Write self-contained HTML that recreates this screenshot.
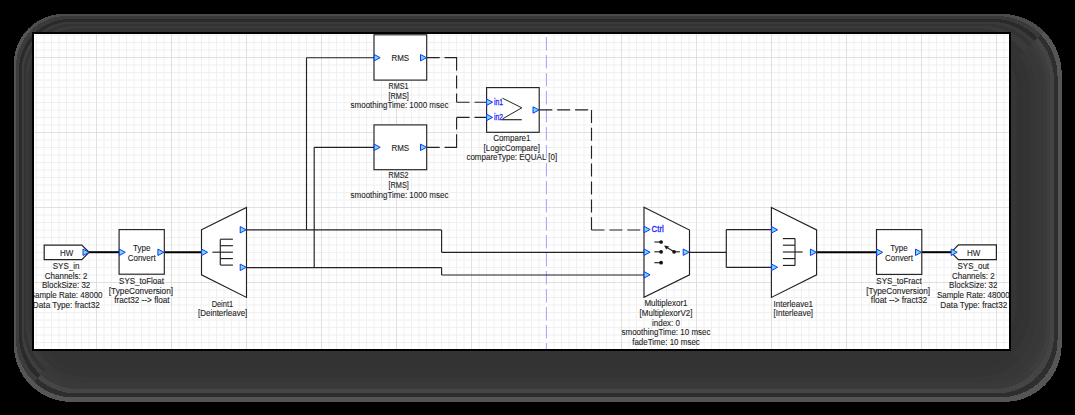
<!DOCTYPE html>
<html><head><meta charset="utf-8"><style>html,body{margin:0;padding:0;background:#000;width:1075px;height:415px;overflow:hidden}</style></head>
<body><svg width="1075" height="415" viewBox="0 0 1075 415" style="display:block;font-family:'Liberation Sans',sans-serif"><rect x="0" y="0" width="1075" height="415" fill="#000"/>
<defs><clipPath id="stop"><polygon points="-236.15,-236.15 1301.70,-226.15 1001.70,73.85 63.85,63.85"/></clipPath><clipPath id="sright"><polygon points="1301.70,-226.15 1304.70,644.80 1004.70,344.80 1001.70,73.85"/></clipPath><clipPath id="sbottom"><polygon points="1304.70,644.80 -229.15,644.80 70.85,344.80 1004.70,344.80"/></clipPath><clipPath id="sleft"><polygon points="-229.15,644.80 -236.15,-236.15 63.85,63.85 70.85,344.80"/></clipPath></defs>
<path d="M63.85,13.85 L1001.70,13.85 A60,60 0 0 1 1061.70,73.85 L1061.70,344.80 A57,57 0 0 1 1004.70,401.80 L70.85,401.80 A57,57 0 0 1 13.85,344.80 L13.85,63.85 A50,50 0 0 1 63.85,13.85 Z" fill="#555555" shape-rendering="crispEdges"/>
<path d="M66.10,16.10 L997.50,16.10 A60,60 0 0 1 1057.50,76.10 L1057.50,340.40 A57,57 0 0 1 1000.50,397.40 L73.10,397.40 A57,57 0 0 1 16.10,340.40 L16.10,66.10 A50,50 0 0 1 66.10,16.10 Z" fill="#2e2e2e" shape-rendering="crispEdges"/>
<path d="M69.10,19.10 L993.80,19.10 A60,60 0 0 1 1053.80,79.10 L1053.80,336.40 A57,57 0 0 1 996.80,393.40 L76.10,393.40 A57,57 0 0 1 19.10,336.40 L19.10,69.10 A50,50 0 0 1 69.10,19.10 Z" fill="#444444" shape-rendering="crispEdges"/>
<path d="M71.60,21.60 L990.20,21.60 A60,60 0 0 1 1050.20,81.60 L1050.20,332.20 A57,57 0 0 1 993.20,389.20 L78.60,389.20 A57,57 0 0 1 21.60,332.20 L21.60,71.60 A50,50 0 0 1 71.60,21.60 Z" fill="#3e3e3e" shape-rendering="crispEdges"/>
<path d="M73.50,23.50 L986.50,23.50 A60,60 0 0 1 1046.50,83.50 L1046.50,328.50 A57,57 0 0 1 989.50,385.50 L80.50,385.50 A57,57 0 0 1 23.50,328.50 L23.50,73.50 A50,50 0 0 1 73.50,23.50 Z" fill="#3a3a3a" shape-rendering="crispEdges"/>
<path d="M75.80,25.80 L983.40,25.80 A60,60 0 0 1 1043.40,85.80 L1043.40,325.00 A57,57 0 0 1 986.40,382.00 L82.80,382.00 A57,57 0 0 1 25.80,325.00 L25.80,75.80 A50,50 0 0 1 75.80,25.80 Z" fill="#383838" shape-rendering="crispEdges"/>
<path d="M78.10,28.10 L976.00,28.10 A60,60 0 0 1 1036.00,88.10 L1036.00,319.70 A57,57 0 0 1 979.00,376.70 L85.10,376.70 A57,57 0 0 1 28.10,319.70 L28.10,78.10 A50,50 0 0 1 78.10,28.10 Z" fill="#363636" shape-rendering="crispEdges"/>
<path d="M80.00,30.00 L970.00,30.00 A60,60 0 0 1 1030.00,90.00 L1030.00,313.00 A57,57 0 0 1 973.00,370.00 L87.00,370.00 A57,57 0 0 1 30.00,313.00 L30.00,80.00 A50,50 0 0 1 80.00,30.00 Z" fill="#333333" shape-rendering="crispEdges"/>
<path d="M81.00,31.00 L962.60,31.00 A60,60 0 0 1 1022.60,91.00 L1022.60,307.00 A57,57 0 0 1 965.60,364.00 L88.00,364.00 A57,57 0 0 1 31.00,307.00 L31.00,81.00 A50,50 0 0 1 81.00,31.00 Z" fill="#323232" shape-rendering="crispEdges"/>
<path d="M81.50,31.50 L957.00,31.50 A60,60 0 0 1 1017.00,91.50 L1017.00,301.00 A57,57 0 0 1 960.00,358.00 L88.50,358.00 A57,57 0 0 1 31.50,301.00 L31.50,81.50 A50,50 0 0 1 81.50,31.50 Z" fill="#353535" shape-rendering="crispEdges"/>
<g clip-path="url(#stop)">
<path d="M63.85,13.85 L1001.70,13.85 A60,60 0 0 1 1061.70,73.85 L1061.70,344.80 A57,57 0 0 1 1004.70,401.80 L70.85,401.80 A57,57 0 0 1 13.85,344.80 L13.85,63.85 A50,50 0 0 1 63.85,13.85 Z" fill="#4c4c4c" shape-rendering="crispEdges"/>
<path d="M66.10,16.10 L997.50,16.10 A60,60 0 0 1 1057.50,76.10 L1057.50,340.40 A57,57 0 0 1 1000.50,397.40 L73.10,397.40 A57,57 0 0 1 16.10,340.40 L16.10,66.10 A50,50 0 0 1 66.10,16.10 Z" fill="#3a3a3a" shape-rendering="crispEdges"/>
<path d="M69.10,19.10 L993.80,19.10 A60,60 0 0 1 1053.80,79.10 L1053.80,336.40 A57,57 0 0 1 996.80,393.40 L76.10,393.40 A57,57 0 0 1 19.10,336.40 L19.10,69.10 A50,50 0 0 1 69.10,19.10 Z" fill="#2a2a2a" shape-rendering="crispEdges"/>
<path d="M71.60,21.60 L990.20,21.60 A60,60 0 0 1 1050.20,81.60 L1050.20,332.20 A57,57 0 0 1 993.20,389.20 L78.60,389.20 A57,57 0 0 1 21.60,332.20 L21.60,71.60 A50,50 0 0 1 71.60,21.60 Z" fill="#3a3a3a" shape-rendering="crispEdges"/>
<path d="M73.50,23.50 L986.50,23.50 A60,60 0 0 1 1046.50,83.50 L1046.50,328.50 A57,57 0 0 1 989.50,385.50 L80.50,385.50 A57,57 0 0 1 23.50,328.50 L23.50,73.50 A50,50 0 0 1 73.50,23.50 Z" fill="#333333" shape-rendering="crispEdges"/>
<path d="M75.80,25.80 L983.40,25.80 A60,60 0 0 1 1043.40,85.80 L1043.40,325.00 A57,57 0 0 1 986.40,382.00 L82.80,382.00 A57,57 0 0 1 25.80,325.00 L25.80,75.80 A50,50 0 0 1 75.80,25.80 Z" fill="#3a3a3a" shape-rendering="crispEdges"/>
<path d="M78.10,28.10 L976.00,28.10 A60,60 0 0 1 1036.00,88.10 L1036.00,319.70 A57,57 0 0 1 979.00,376.70 L85.10,376.70 A57,57 0 0 1 28.10,319.70 L28.10,78.10 A50,50 0 0 1 78.10,28.10 Z" fill="#333333" shape-rendering="crispEdges"/>
<path d="M80.00,30.00 L970.00,30.00 A60,60 0 0 1 1030.00,90.00 L1030.00,313.00 A57,57 0 0 1 973.00,370.00 L87.00,370.00 A57,57 0 0 1 30.00,313.00 L30.00,80.00 A50,50 0 0 1 80.00,30.00 Z" fill="#333333" shape-rendering="crispEdges"/>
<path d="M81.00,31.00 L962.60,31.00 A60,60 0 0 1 1022.60,91.00 L1022.60,307.00 A57,57 0 0 1 965.60,364.00 L88.00,364.00 A57,57 0 0 1 31.00,307.00 L31.00,81.00 A50,50 0 0 1 81.00,31.00 Z" fill="#333333" shape-rendering="crispEdges"/>
<path d="M81.50,31.50 L957.00,31.50 A60,60 0 0 1 1017.00,91.50 L1017.00,301.00 A57,57 0 0 1 960.00,358.00 L88.50,358.00 A57,57 0 0 1 31.50,301.00 L31.50,81.50 A50,50 0 0 1 81.50,31.50 Z" fill="#333333" shape-rendering="crispEdges"/>
</g>
<g clip-path="url(#sleft)">
<path d="M63.85,13.85 L1001.70,13.85 A60,60 0 0 1 1061.70,73.85 L1061.70,344.80 A57,57 0 0 1 1004.70,401.80 L70.85,401.80 A57,57 0 0 1 13.85,344.80 L13.85,63.85 A50,50 0 0 1 63.85,13.85 Z" fill="#555555" shape-rendering="crispEdges"/>
<path d="M66.10,16.10 L997.50,16.10 A60,60 0 0 1 1057.50,76.10 L1057.50,340.40 A57,57 0 0 1 1000.50,397.40 L73.10,397.40 A57,57 0 0 1 16.10,340.40 L16.10,66.10 A50,50 0 0 1 66.10,16.10 Z" fill="#3c3c3c" shape-rendering="crispEdges"/>
<path d="M69.10,19.10 L993.80,19.10 A60,60 0 0 1 1053.80,79.10 L1053.80,336.40 A57,57 0 0 1 996.80,393.40 L76.10,393.40 A57,57 0 0 1 19.10,336.40 L19.10,69.10 A50,50 0 0 1 69.10,19.10 Z" fill="#2a2a2a" shape-rendering="crispEdges"/>
<path d="M71.60,21.60 L990.20,21.60 A60,60 0 0 1 1050.20,81.60 L1050.20,332.20 A57,57 0 0 1 993.20,389.20 L78.60,389.20 A57,57 0 0 1 21.60,332.20 L21.60,71.60 A50,50 0 0 1 71.60,21.60 Z" fill="#3e3e3e" shape-rendering="crispEdges"/>
<path d="M73.50,23.50 L986.50,23.50 A60,60 0 0 1 1046.50,83.50 L1046.50,328.50 A57,57 0 0 1 989.50,385.50 L80.50,385.50 A57,57 0 0 1 23.50,328.50 L23.50,73.50 A50,50 0 0 1 73.50,23.50 Z" fill="#333333" shape-rendering="crispEdges"/>
<path d="M75.80,25.80 L983.40,25.80 A60,60 0 0 1 1043.40,85.80 L1043.40,325.00 A57,57 0 0 1 986.40,382.00 L82.80,382.00 A57,57 0 0 1 25.80,325.00 L25.80,75.80 A50,50 0 0 1 75.80,25.80 Z" fill="#3a3a3a" shape-rendering="crispEdges"/>
<path d="M78.10,28.10 L976.00,28.10 A60,60 0 0 1 1036.00,88.10 L1036.00,319.70 A57,57 0 0 1 979.00,376.70 L85.10,376.70 A57,57 0 0 1 28.10,319.70 L28.10,78.10 A50,50 0 0 1 78.10,28.10 Z" fill="#353535" shape-rendering="crispEdges"/>
<path d="M80.00,30.00 L970.00,30.00 A60,60 0 0 1 1030.00,90.00 L1030.00,313.00 A57,57 0 0 1 973.00,370.00 L87.00,370.00 A57,57 0 0 1 30.00,313.00 L30.00,80.00 A50,50 0 0 1 80.00,30.00 Z" fill="#333333" shape-rendering="crispEdges"/>
<path d="M81.00,31.00 L962.60,31.00 A60,60 0 0 1 1022.60,91.00 L1022.60,307.00 A57,57 0 0 1 965.60,364.00 L88.00,364.00 A57,57 0 0 1 31.00,307.00 L31.00,81.00 A50,50 0 0 1 81.00,31.00 Z" fill="#333333" shape-rendering="crispEdges"/>
<path d="M81.50,31.50 L957.00,31.50 A60,60 0 0 1 1017.00,91.50 L1017.00,301.00 A57,57 0 0 1 960.00,358.00 L88.50,358.00 A57,57 0 0 1 31.50,301.00 L31.50,81.50 A50,50 0 0 1 81.50,31.50 Z" fill="#333333" shape-rendering="crispEdges"/>
</g>
<g clip-path="url(#sright)">
<path d="M63.85,13.85 L1001.70,13.85 A60,60 0 0 1 1061.70,73.85 L1061.70,344.80 A57,57 0 0 1 1004.70,401.80 L70.85,401.80 A57,57 0 0 1 13.85,344.80 L13.85,63.85 A50,50 0 0 1 63.85,13.85 Z" fill="#555555" shape-rendering="crispEdges"/>
<path d="M66.10,16.10 L997.50,16.10 A60,60 0 0 1 1057.50,76.10 L1057.50,340.40 A57,57 0 0 1 1000.50,397.40 L73.10,397.40 A57,57 0 0 1 16.10,340.40 L16.10,66.10 A50,50 0 0 1 66.10,16.10 Z" fill="#2e2e2e" shape-rendering="crispEdges"/>
<path d="M69.10,19.10 L993.80,19.10 A60,60 0 0 1 1053.80,79.10 L1053.80,336.40 A57,57 0 0 1 996.80,393.40 L76.10,393.40 A57,57 0 0 1 19.10,336.40 L19.10,69.10 A50,50 0 0 1 69.10,19.10 Z" fill="#444444" shape-rendering="crispEdges"/>
<path d="M71.60,21.60 L990.20,21.60 A60,60 0 0 1 1050.20,81.60 L1050.20,332.20 A57,57 0 0 1 993.20,389.20 L78.60,389.20 A57,57 0 0 1 21.60,332.20 L21.60,71.60 A50,50 0 0 1 71.60,21.60 Z" fill="#3e3e3e" shape-rendering="crispEdges"/>
<path d="M73.50,23.50 L986.50,23.50 A60,60 0 0 1 1046.50,83.50 L1046.50,328.50 A57,57 0 0 1 989.50,385.50 L80.50,385.50 A57,57 0 0 1 23.50,328.50 L23.50,73.50 A50,50 0 0 1 73.50,23.50 Z" fill="#3a3a3a" shape-rendering="crispEdges"/>
<path d="M75.80,25.80 L983.40,25.80 A60,60 0 0 1 1043.40,85.80 L1043.40,325.00 A57,57 0 0 1 986.40,382.00 L82.80,382.00 A57,57 0 0 1 25.80,325.00 L25.80,75.80 A50,50 0 0 1 75.80,25.80 Z" fill="#383838" shape-rendering="crispEdges"/>
<path d="M78.10,28.10 L976.00,28.10 A60,60 0 0 1 1036.00,88.10 L1036.00,319.70 A57,57 0 0 1 979.00,376.70 L85.10,376.70 A57,57 0 0 1 28.10,319.70 L28.10,78.10 A50,50 0 0 1 78.10,28.10 Z" fill="#363636" shape-rendering="crispEdges"/>
<path d="M80.00,30.00 L970.00,30.00 A60,60 0 0 1 1030.00,90.00 L1030.00,313.00 A57,57 0 0 1 973.00,370.00 L87.00,370.00 A57,57 0 0 1 30.00,313.00 L30.00,80.00 A50,50 0 0 1 80.00,30.00 Z" fill="#333333" shape-rendering="crispEdges"/>
<path d="M81.00,31.00 L962.60,31.00 A60,60 0 0 1 1022.60,91.00 L1022.60,307.00 A57,57 0 0 1 965.60,364.00 L88.00,364.00 A57,57 0 0 1 31.00,307.00 L31.00,81.00 A50,50 0 0 1 81.00,31.00 Z" fill="#323232" shape-rendering="crispEdges"/>
<path d="M81.50,31.50 L957.00,31.50 A60,60 0 0 1 1017.00,91.50 L1017.00,301.00 A57,57 0 0 1 960.00,358.00 L88.50,358.00 A57,57 0 0 1 31.50,301.00 L31.50,81.50 A50,50 0 0 1 81.50,31.50 Z" fill="#353535" shape-rendering="crispEdges"/>
</g>
<g clip-path="url(#sbottom)">
<path d="M63.85,13.85 L1001.70,13.85 A60,60 0 0 1 1061.70,73.85 L1061.70,344.80 A57,57 0 0 1 1004.70,401.80 L70.85,401.80 A57,57 0 0 1 13.85,344.80 L13.85,63.85 A50,50 0 0 1 63.85,13.85 Z" fill="#555555" shape-rendering="crispEdges"/>
<path d="M66.10,16.10 L997.50,16.10 A60,60 0 0 1 1057.50,76.10 L1057.50,340.40 A57,57 0 0 1 1000.50,397.40 L73.10,397.40 A57,57 0 0 1 16.10,340.40 L16.10,66.10 A50,50 0 0 1 66.10,16.10 Z" fill="#2e2e2e" shape-rendering="crispEdges"/>
<path d="M69.10,19.10 L993.80,19.10 A60,60 0 0 1 1053.80,79.10 L1053.80,336.40 A57,57 0 0 1 996.80,393.40 L76.10,393.40 A57,57 0 0 1 19.10,336.40 L19.10,69.10 A50,50 0 0 1 69.10,19.10 Z" fill="#454545" shape-rendering="crispEdges"/>
<path d="M71.60,21.60 L990.20,21.60 A60,60 0 0 1 1050.20,81.60 L1050.20,332.20 A57,57 0 0 1 993.20,389.20 L78.60,389.20 A57,57 0 0 1 21.60,332.20 L21.60,71.60 A50,50 0 0 1 71.60,21.60 Z" fill="#3a3a3a" shape-rendering="crispEdges"/>
<path d="M73.50,23.50 L986.50,23.50 A60,60 0 0 1 1046.50,83.50 L1046.50,328.50 A57,57 0 0 1 989.50,385.50 L80.50,385.50 A57,57 0 0 1 23.50,328.50 L23.50,73.50 A50,50 0 0 1 73.50,23.50 Z" fill="#393939" shape-rendering="crispEdges"/>
<path d="M75.80,25.80 L983.40,25.80 A60,60 0 0 1 1043.40,85.80 L1043.40,325.00 A57,57 0 0 1 986.40,382.00 L82.80,382.00 A57,57 0 0 1 25.80,325.00 L25.80,75.80 A50,50 0 0 1 75.80,25.80 Z" fill="#373737" shape-rendering="crispEdges"/>
<path d="M78.10,28.10 L976.00,28.10 A60,60 0 0 1 1036.00,88.10 L1036.00,319.70 A57,57 0 0 1 979.00,376.70 L85.10,376.70 A57,57 0 0 1 28.10,319.70 L28.10,78.10 A50,50 0 0 1 78.10,28.10 Z" fill="#343434" shape-rendering="crispEdges"/>
<path d="M80.00,30.00 L970.00,30.00 A60,60 0 0 1 1030.00,90.00 L1030.00,313.00 A57,57 0 0 1 973.00,370.00 L87.00,370.00 A57,57 0 0 1 30.00,313.00 L30.00,80.00 A50,50 0 0 1 80.00,30.00 Z" fill="#333333" shape-rendering="crispEdges"/>
<path d="M81.00,31.00 L962.60,31.00 A60,60 0 0 1 1022.60,91.00 L1022.60,307.00 A57,57 0 0 1 965.60,364.00 L88.00,364.00 A57,57 0 0 1 31.00,307.00 L31.00,81.00 A50,50 0 0 1 81.00,31.00 Z" fill="#333333" shape-rendering="crispEdges"/>
<path d="M81.50,31.50 L957.00,31.50 A60,60 0 0 1 1017.00,91.50 L1017.00,301.00 A57,57 0 0 1 960.00,358.00 L88.50,358.00 A57,57 0 0 1 31.50,301.00 L31.50,81.50 A50,50 0 0 1 81.50,31.50 Z" fill="#333333" shape-rendering="crispEdges"/>
</g>
<rect x="32" y="32" width="979" height="319" fill="#000"/>
<rect x="34" y="34" width="975" height="315" fill="#fff"/>
<defs><clipPath id="cp"><rect x="34" y="34" width="975" height="315"/></clipPath></defs>
<g clip-path="url(#cp)">
<line x1="36.5" y1="34" x2="36.5" y2="349" stroke="#f0f0f0" stroke-width="1"/>
<line x1="44.0" y1="34" x2="44.0" y2="349" stroke="#f0f0f0" stroke-width="1"/>
<line x1="51.5" y1="34" x2="51.5" y2="349" stroke="#f0f0f0" stroke-width="1"/>
<line x1="59.0" y1="34" x2="59.0" y2="349" stroke="#f0f0f0" stroke-width="1"/>
<line x1="66.5" y1="34" x2="66.5" y2="349" stroke="#f0f0f0" stroke-width="1"/>
<line x1="74.0" y1="34" x2="74.0" y2="349" stroke="#f0f0f0" stroke-width="1"/>
<line x1="81.5" y1="34" x2="81.5" y2="349" stroke="#f0f0f0" stroke-width="1"/>
<line x1="89.0" y1="34" x2="89.0" y2="349" stroke="#f0f0f0" stroke-width="1"/>
<line x1="104.0" y1="34" x2="104.0" y2="349" stroke="#f0f0f0" stroke-width="1"/>
<line x1="111.5" y1="34" x2="111.5" y2="349" stroke="#f0f0f0" stroke-width="1"/>
<line x1="119.0" y1="34" x2="119.0" y2="349" stroke="#f0f0f0" stroke-width="1"/>
<line x1="126.5" y1="34" x2="126.5" y2="349" stroke="#f0f0f0" stroke-width="1"/>
<line x1="134.0" y1="34" x2="134.0" y2="349" stroke="#f0f0f0" stroke-width="1"/>
<line x1="141.5" y1="34" x2="141.5" y2="349" stroke="#f0f0f0" stroke-width="1"/>
<line x1="149.0" y1="34" x2="149.0" y2="349" stroke="#f0f0f0" stroke-width="1"/>
<line x1="156.5" y1="34" x2="156.5" y2="349" stroke="#f0f0f0" stroke-width="1"/>
<line x1="164.0" y1="34" x2="164.0" y2="349" stroke="#f0f0f0" stroke-width="1"/>
<line x1="179.0" y1="34" x2="179.0" y2="349" stroke="#f0f0f0" stroke-width="1"/>
<line x1="186.5" y1="34" x2="186.5" y2="349" stroke="#f0f0f0" stroke-width="1"/>
<line x1="194.0" y1="34" x2="194.0" y2="349" stroke="#f0f0f0" stroke-width="1"/>
<line x1="201.5" y1="34" x2="201.5" y2="349" stroke="#f0f0f0" stroke-width="1"/>
<line x1="209.0" y1="34" x2="209.0" y2="349" stroke="#f0f0f0" stroke-width="1"/>
<line x1="216.5" y1="34" x2="216.5" y2="349" stroke="#f0f0f0" stroke-width="1"/>
<line x1="224.0" y1="34" x2="224.0" y2="349" stroke="#f0f0f0" stroke-width="1"/>
<line x1="231.5" y1="34" x2="231.5" y2="349" stroke="#f0f0f0" stroke-width="1"/>
<line x1="239.0" y1="34" x2="239.0" y2="349" stroke="#f0f0f0" stroke-width="1"/>
<line x1="254.0" y1="34" x2="254.0" y2="349" stroke="#f0f0f0" stroke-width="1"/>
<line x1="261.5" y1="34" x2="261.5" y2="349" stroke="#f0f0f0" stroke-width="1"/>
<line x1="269.0" y1="34" x2="269.0" y2="349" stroke="#f0f0f0" stroke-width="1"/>
<line x1="276.5" y1="34" x2="276.5" y2="349" stroke="#f0f0f0" stroke-width="1"/>
<line x1="284.0" y1="34" x2="284.0" y2="349" stroke="#f0f0f0" stroke-width="1"/>
<line x1="291.5" y1="34" x2="291.5" y2="349" stroke="#f0f0f0" stroke-width="1"/>
<line x1="299.0" y1="34" x2="299.0" y2="349" stroke="#f0f0f0" stroke-width="1"/>
<line x1="306.5" y1="34" x2="306.5" y2="349" stroke="#f0f0f0" stroke-width="1"/>
<line x1="314.0" y1="34" x2="314.0" y2="349" stroke="#f0f0f0" stroke-width="1"/>
<line x1="329.0" y1="34" x2="329.0" y2="349" stroke="#f0f0f0" stroke-width="1"/>
<line x1="336.5" y1="34" x2="336.5" y2="349" stroke="#f0f0f0" stroke-width="1"/>
<line x1="344.0" y1="34" x2="344.0" y2="349" stroke="#f0f0f0" stroke-width="1"/>
<line x1="351.5" y1="34" x2="351.5" y2="349" stroke="#f0f0f0" stroke-width="1"/>
<line x1="359.0" y1="34" x2="359.0" y2="349" stroke="#f0f0f0" stroke-width="1"/>
<line x1="366.5" y1="34" x2="366.5" y2="349" stroke="#f0f0f0" stroke-width="1"/>
<line x1="374.0" y1="34" x2="374.0" y2="349" stroke="#f0f0f0" stroke-width="1"/>
<line x1="381.5" y1="34" x2="381.5" y2="349" stroke="#f0f0f0" stroke-width="1"/>
<line x1="389.0" y1="34" x2="389.0" y2="349" stroke="#f0f0f0" stroke-width="1"/>
<line x1="404.0" y1="34" x2="404.0" y2="349" stroke="#f0f0f0" stroke-width="1"/>
<line x1="411.5" y1="34" x2="411.5" y2="349" stroke="#f0f0f0" stroke-width="1"/>
<line x1="419.0" y1="34" x2="419.0" y2="349" stroke="#f0f0f0" stroke-width="1"/>
<line x1="426.5" y1="34" x2="426.5" y2="349" stroke="#f0f0f0" stroke-width="1"/>
<line x1="434.0" y1="34" x2="434.0" y2="349" stroke="#f0f0f0" stroke-width="1"/>
<line x1="441.5" y1="34" x2="441.5" y2="349" stroke="#f0f0f0" stroke-width="1"/>
<line x1="449.0" y1="34" x2="449.0" y2="349" stroke="#f0f0f0" stroke-width="1"/>
<line x1="456.5" y1="34" x2="456.5" y2="349" stroke="#f0f0f0" stroke-width="1"/>
<line x1="464.0" y1="34" x2="464.0" y2="349" stroke="#f0f0f0" stroke-width="1"/>
<line x1="479.0" y1="34" x2="479.0" y2="349" stroke="#f0f0f0" stroke-width="1"/>
<line x1="486.5" y1="34" x2="486.5" y2="349" stroke="#f0f0f0" stroke-width="1"/>
<line x1="494.0" y1="34" x2="494.0" y2="349" stroke="#f0f0f0" stroke-width="1"/>
<line x1="501.5" y1="34" x2="501.5" y2="349" stroke="#f0f0f0" stroke-width="1"/>
<line x1="509.0" y1="34" x2="509.0" y2="349" stroke="#f0f0f0" stroke-width="1"/>
<line x1="516.5" y1="34" x2="516.5" y2="349" stroke="#f0f0f0" stroke-width="1"/>
<line x1="524.0" y1="34" x2="524.0" y2="349" stroke="#f0f0f0" stroke-width="1"/>
<line x1="531.5" y1="34" x2="531.5" y2="349" stroke="#f0f0f0" stroke-width="1"/>
<line x1="539.0" y1="34" x2="539.0" y2="349" stroke="#f0f0f0" stroke-width="1"/>
<line x1="554.0" y1="34" x2="554.0" y2="349" stroke="#f0f0f0" stroke-width="1"/>
<line x1="561.5" y1="34" x2="561.5" y2="349" stroke="#f0f0f0" stroke-width="1"/>
<line x1="569.0" y1="34" x2="569.0" y2="349" stroke="#f0f0f0" stroke-width="1"/>
<line x1="576.5" y1="34" x2="576.5" y2="349" stroke="#f0f0f0" stroke-width="1"/>
<line x1="584.0" y1="34" x2="584.0" y2="349" stroke="#f0f0f0" stroke-width="1"/>
<line x1="591.5" y1="34" x2="591.5" y2="349" stroke="#f0f0f0" stroke-width="1"/>
<line x1="599.0" y1="34" x2="599.0" y2="349" stroke="#f0f0f0" stroke-width="1"/>
<line x1="606.5" y1="34" x2="606.5" y2="349" stroke="#f0f0f0" stroke-width="1"/>
<line x1="614.0" y1="34" x2="614.0" y2="349" stroke="#f0f0f0" stroke-width="1"/>
<line x1="629.0" y1="34" x2="629.0" y2="349" stroke="#f0f0f0" stroke-width="1"/>
<line x1="636.5" y1="34" x2="636.5" y2="349" stroke="#f0f0f0" stroke-width="1"/>
<line x1="644.0" y1="34" x2="644.0" y2="349" stroke="#f0f0f0" stroke-width="1"/>
<line x1="651.5" y1="34" x2="651.5" y2="349" stroke="#f0f0f0" stroke-width="1"/>
<line x1="659.0" y1="34" x2="659.0" y2="349" stroke="#f0f0f0" stroke-width="1"/>
<line x1="666.5" y1="34" x2="666.5" y2="349" stroke="#f0f0f0" stroke-width="1"/>
<line x1="674.0" y1="34" x2="674.0" y2="349" stroke="#f0f0f0" stroke-width="1"/>
<line x1="681.5" y1="34" x2="681.5" y2="349" stroke="#f0f0f0" stroke-width="1"/>
<line x1="689.0" y1="34" x2="689.0" y2="349" stroke="#f0f0f0" stroke-width="1"/>
<line x1="704.0" y1="34" x2="704.0" y2="349" stroke="#f0f0f0" stroke-width="1"/>
<line x1="711.5" y1="34" x2="711.5" y2="349" stroke="#f0f0f0" stroke-width="1"/>
<line x1="719.0" y1="34" x2="719.0" y2="349" stroke="#f0f0f0" stroke-width="1"/>
<line x1="726.5" y1="34" x2="726.5" y2="349" stroke="#f0f0f0" stroke-width="1"/>
<line x1="734.0" y1="34" x2="734.0" y2="349" stroke="#f0f0f0" stroke-width="1"/>
<line x1="741.5" y1="34" x2="741.5" y2="349" stroke="#f0f0f0" stroke-width="1"/>
<line x1="749.0" y1="34" x2="749.0" y2="349" stroke="#f0f0f0" stroke-width="1"/>
<line x1="756.5" y1="34" x2="756.5" y2="349" stroke="#f0f0f0" stroke-width="1"/>
<line x1="764.0" y1="34" x2="764.0" y2="349" stroke="#f0f0f0" stroke-width="1"/>
<line x1="779.0" y1="34" x2="779.0" y2="349" stroke="#f0f0f0" stroke-width="1"/>
<line x1="786.5" y1="34" x2="786.5" y2="349" stroke="#f0f0f0" stroke-width="1"/>
<line x1="794.0" y1="34" x2="794.0" y2="349" stroke="#f0f0f0" stroke-width="1"/>
<line x1="801.5" y1="34" x2="801.5" y2="349" stroke="#f0f0f0" stroke-width="1"/>
<line x1="809.0" y1="34" x2="809.0" y2="349" stroke="#f0f0f0" stroke-width="1"/>
<line x1="816.5" y1="34" x2="816.5" y2="349" stroke="#f0f0f0" stroke-width="1"/>
<line x1="824.0" y1="34" x2="824.0" y2="349" stroke="#f0f0f0" stroke-width="1"/>
<line x1="831.5" y1="34" x2="831.5" y2="349" stroke="#f0f0f0" stroke-width="1"/>
<line x1="839.0" y1="34" x2="839.0" y2="349" stroke="#f0f0f0" stroke-width="1"/>
<line x1="854.0" y1="34" x2="854.0" y2="349" stroke="#f0f0f0" stroke-width="1"/>
<line x1="861.5" y1="34" x2="861.5" y2="349" stroke="#f0f0f0" stroke-width="1"/>
<line x1="869.0" y1="34" x2="869.0" y2="349" stroke="#f0f0f0" stroke-width="1"/>
<line x1="876.5" y1="34" x2="876.5" y2="349" stroke="#f0f0f0" stroke-width="1"/>
<line x1="884.0" y1="34" x2="884.0" y2="349" stroke="#f0f0f0" stroke-width="1"/>
<line x1="891.5" y1="34" x2="891.5" y2="349" stroke="#f0f0f0" stroke-width="1"/>
<line x1="899.0" y1="34" x2="899.0" y2="349" stroke="#f0f0f0" stroke-width="1"/>
<line x1="906.5" y1="34" x2="906.5" y2="349" stroke="#f0f0f0" stroke-width="1"/>
<line x1="914.0" y1="34" x2="914.0" y2="349" stroke="#f0f0f0" stroke-width="1"/>
<line x1="929.0" y1="34" x2="929.0" y2="349" stroke="#f0f0f0" stroke-width="1"/>
<line x1="936.5" y1="34" x2="936.5" y2="349" stroke="#f0f0f0" stroke-width="1"/>
<line x1="944.0" y1="34" x2="944.0" y2="349" stroke="#f0f0f0" stroke-width="1"/>
<line x1="951.5" y1="34" x2="951.5" y2="349" stroke="#f0f0f0" stroke-width="1"/>
<line x1="959.0" y1="34" x2="959.0" y2="349" stroke="#f0f0f0" stroke-width="1"/>
<line x1="966.5" y1="34" x2="966.5" y2="349" stroke="#f0f0f0" stroke-width="1"/>
<line x1="974.0" y1="34" x2="974.0" y2="349" stroke="#f0f0f0" stroke-width="1"/>
<line x1="981.5" y1="34" x2="981.5" y2="349" stroke="#f0f0f0" stroke-width="1"/>
<line x1="989.0" y1="34" x2="989.0" y2="349" stroke="#f0f0f0" stroke-width="1"/>
<line x1="1004.0" y1="34" x2="1004.0" y2="349" stroke="#f0f0f0" stroke-width="1"/>
<line x1="34" y1="35.0" x2="1009" y2="35.0" stroke="#f0f0f0" stroke-width="1"/>
<line x1="34" y1="42.5" x2="1009" y2="42.5" stroke="#f0f0f0" stroke-width="1"/>
<line x1="34" y1="50.0" x2="1009" y2="50.0" stroke="#f0f0f0" stroke-width="1"/>
<line x1="34" y1="65.0" x2="1009" y2="65.0" stroke="#f0f0f0" stroke-width="1"/>
<line x1="34" y1="72.5" x2="1009" y2="72.5" stroke="#f0f0f0" stroke-width="1"/>
<line x1="34" y1="80.0" x2="1009" y2="80.0" stroke="#f0f0f0" stroke-width="1"/>
<line x1="34" y1="87.5" x2="1009" y2="87.5" stroke="#f0f0f0" stroke-width="1"/>
<line x1="34" y1="95.0" x2="1009" y2="95.0" stroke="#f0f0f0" stroke-width="1"/>
<line x1="34" y1="102.5" x2="1009" y2="102.5" stroke="#f0f0f0" stroke-width="1"/>
<line x1="34" y1="110.0" x2="1009" y2="110.0" stroke="#f0f0f0" stroke-width="1"/>
<line x1="34" y1="117.5" x2="1009" y2="117.5" stroke="#f0f0f0" stroke-width="1"/>
<line x1="34" y1="125.0" x2="1009" y2="125.0" stroke="#f0f0f0" stroke-width="1"/>
<line x1="34" y1="140.0" x2="1009" y2="140.0" stroke="#f0f0f0" stroke-width="1"/>
<line x1="34" y1="147.5" x2="1009" y2="147.5" stroke="#f0f0f0" stroke-width="1"/>
<line x1="34" y1="155.0" x2="1009" y2="155.0" stroke="#f0f0f0" stroke-width="1"/>
<line x1="34" y1="162.5" x2="1009" y2="162.5" stroke="#f0f0f0" stroke-width="1"/>
<line x1="34" y1="170.0" x2="1009" y2="170.0" stroke="#f0f0f0" stroke-width="1"/>
<line x1="34" y1="177.5" x2="1009" y2="177.5" stroke="#f0f0f0" stroke-width="1"/>
<line x1="34" y1="185.0" x2="1009" y2="185.0" stroke="#f0f0f0" stroke-width="1"/>
<line x1="34" y1="192.5" x2="1009" y2="192.5" stroke="#f0f0f0" stroke-width="1"/>
<line x1="34" y1="200.0" x2="1009" y2="200.0" stroke="#f0f0f0" stroke-width="1"/>
<line x1="34" y1="215.0" x2="1009" y2="215.0" stroke="#f0f0f0" stroke-width="1"/>
<line x1="34" y1="222.5" x2="1009" y2="222.5" stroke="#f0f0f0" stroke-width="1"/>
<line x1="34" y1="230.0" x2="1009" y2="230.0" stroke="#f0f0f0" stroke-width="1"/>
<line x1="34" y1="237.5" x2="1009" y2="237.5" stroke="#f0f0f0" stroke-width="1"/>
<line x1="34" y1="245.0" x2="1009" y2="245.0" stroke="#f0f0f0" stroke-width="1"/>
<line x1="34" y1="252.5" x2="1009" y2="252.5" stroke="#f0f0f0" stroke-width="1"/>
<line x1="34" y1="260.0" x2="1009" y2="260.0" stroke="#f0f0f0" stroke-width="1"/>
<line x1="34" y1="267.5" x2="1009" y2="267.5" stroke="#f0f0f0" stroke-width="1"/>
<line x1="34" y1="275.0" x2="1009" y2="275.0" stroke="#f0f0f0" stroke-width="1"/>
<line x1="34" y1="290.0" x2="1009" y2="290.0" stroke="#f0f0f0" stroke-width="1"/>
<line x1="34" y1="297.5" x2="1009" y2="297.5" stroke="#f0f0f0" stroke-width="1"/>
<line x1="34" y1="305.0" x2="1009" y2="305.0" stroke="#f0f0f0" stroke-width="1"/>
<line x1="34" y1="312.5" x2="1009" y2="312.5" stroke="#f0f0f0" stroke-width="1"/>
<line x1="34" y1="320.0" x2="1009" y2="320.0" stroke="#f0f0f0" stroke-width="1"/>
<line x1="34" y1="327.5" x2="1009" y2="327.5" stroke="#f0f0f0" stroke-width="1"/>
<line x1="34" y1="335.0" x2="1009" y2="335.0" stroke="#f0f0f0" stroke-width="1"/>
<line x1="34" y1="342.5" x2="1009" y2="342.5" stroke="#f0f0f0" stroke-width="1"/>
<line x1="96.5" y1="34" x2="96.5" y2="349" stroke="#e0e0e0" stroke-width="1"/>
<line x1="171.5" y1="34" x2="171.5" y2="349" stroke="#e0e0e0" stroke-width="1"/>
<line x1="246.5" y1="34" x2="246.5" y2="349" stroke="#e0e0e0" stroke-width="1"/>
<line x1="321.5" y1="34" x2="321.5" y2="349" stroke="#e0e0e0" stroke-width="1"/>
<line x1="396.5" y1="34" x2="396.5" y2="349" stroke="#e0e0e0" stroke-width="1"/>
<line x1="471.5" y1="34" x2="471.5" y2="349" stroke="#e0e0e0" stroke-width="1"/>
<line x1="546.5" y1="34" x2="546.5" y2="349" stroke="#e0e0e0" stroke-width="1"/>
<line x1="621.5" y1="34" x2="621.5" y2="349" stroke="#e0e0e0" stroke-width="1"/>
<line x1="696.5" y1="34" x2="696.5" y2="349" stroke="#e0e0e0" stroke-width="1"/>
<line x1="771.5" y1="34" x2="771.5" y2="349" stroke="#e0e0e0" stroke-width="1"/>
<line x1="846.5" y1="34" x2="846.5" y2="349" stroke="#e0e0e0" stroke-width="1"/>
<line x1="921.5" y1="34" x2="921.5" y2="349" stroke="#e0e0e0" stroke-width="1"/>
<line x1="996.5" y1="34" x2="996.5" y2="349" stroke="#e0e0e0" stroke-width="1"/>
<line x1="34" y1="57.5" x2="1009" y2="57.5" stroke="#e0e0e0" stroke-width="1"/>
<line x1="34" y1="132.5" x2="1009" y2="132.5" stroke="#e0e0e0" stroke-width="1"/>
<line x1="34" y1="207.5" x2="1009" y2="207.5" stroke="#e0e0e0" stroke-width="1"/>
<line x1="34" y1="282.5" x2="1009" y2="282.5" stroke="#e0e0e0" stroke-width="1"/>
<line x1="546.4" y1="34" x2="546.4" y2="349" stroke="#fff" stroke-width="1.2"/>
<line x1="546.4" y1="37" x2="546.4" y2="349" stroke="#a0a0ff" stroke-width="1" stroke-dasharray="13.5 4.5"/>
<line x1="246.5" y1="229.9" x2="441.6" y2="229.9" stroke="#222222" stroke-width="1.15"/>
<line x1="441.6" y1="229.9" x2="441.6" y2="252.3" stroke="#222222" stroke-width="1.15"/>
<line x1="441.6" y1="252.3" x2="644" y2="252.3" stroke="#222222" stroke-width="1.15"/>
<line x1="246.5" y1="267.6" x2="441.6" y2="267.6" stroke="#222222" stroke-width="1.15"/>
<line x1="441.6" y1="267.6" x2="441.6" y2="275" stroke="#222222" stroke-width="1.15"/>
<line x1="441.6" y1="275" x2="644" y2="275" stroke="#222222" stroke-width="1.15"/>
<line x1="306.5" y1="57.7" x2="374" y2="57.7" stroke="#222222" stroke-width="1.15"/>
<line x1="306.5" y1="57.7" x2="306.5" y2="229.9" stroke="#222222" stroke-width="1.15"/>
<line x1="314.2" y1="147.3" x2="374" y2="147.3" stroke="#222222" stroke-width="1.15"/>
<line x1="314.2" y1="147.3" x2="314.2" y2="267.6" stroke="#222222" stroke-width="1.15"/>
<line x1="689" y1="252.3" x2="726.3" y2="252.3" stroke="#222222" stroke-width="1.15"/>
<line x1="726.3" y1="229.6" x2="726.3" y2="267.6" stroke="#222222" stroke-width="1.15"/>
<line x1="726.3" y1="229.6" x2="771.4" y2="229.6" stroke="#222222" stroke-width="1.15"/>
<line x1="726.3" y1="267.4" x2="771.4" y2="267.4" stroke="#222222" stroke-width="1.15"/>
<line x1="426.7" y1="57.6" x2="457.0" y2="57.6" stroke="#222222" stroke-width="1.15" stroke-dasharray="13 4.9"/>
<line x1="456.6" y1="57.6" x2="456.6" y2="102.2" stroke="#222222" stroke-width="1.15" stroke-dasharray="13 4.9"/>
<line x1="456.6" y1="102.2" x2="486.5" y2="102.2" stroke="#222222" stroke-width="1.15" stroke-dasharray="13 4.9"/>
<line x1="426.7" y1="147.3" x2="457.0" y2="147.3" stroke="#222222" stroke-width="1.15" stroke-dasharray="13 4.9"/>
<line x1="456.6" y1="147.3" x2="456.6" y2="117.4" stroke="#222222" stroke-width="1.15" stroke-dasharray="13 4.9"/>
<line x1="456.6" y1="117.4" x2="486.5" y2="117.4" stroke="#222222" stroke-width="1.15" stroke-dasharray="13 4.9"/>
<line x1="539.3" y1="109.9" x2="591.5" y2="109.9" stroke="#222222" stroke-width="1.15" stroke-dasharray="13 4.9"/>
<line x1="591.5" y1="109.9" x2="591.5" y2="230.0" stroke="#222222" stroke-width="1.15" stroke-dasharray="13 4.9"/>
<line x1="591.5" y1="230.0" x2="644" y2="230.0" stroke="#222222" stroke-width="1.15" stroke-dasharray="13 4.9"/>
<line x1="89" y1="252.2" x2="119.1" y2="252.2" stroke="#000" stroke-width="2"/>
<line x1="164.2" y1="252.2" x2="201.5" y2="252.2" stroke="#000" stroke-width="2"/>
<line x1="816.5" y1="252.2" x2="876.5" y2="252.2" stroke="#000" stroke-width="2"/>
<line x1="921.8" y1="252.2" x2="951.1" y2="252.2" stroke="#000" stroke-width="2"/>
<polygon points="44.2,245.1 81.8,245.1 89.1,252.3 81.8,259.6 44.2,259.6" fill="#fff" stroke="#222222" stroke-width="1.2"/>
<text transform="translate(66.6,255.8) scale(1,1.15)" text-anchor="middle" fill="#1e1e1e" stroke="#1e1e1e" stroke-width="0.1" font-size="8.0">HW</text>
<polygon points="83,249.10000000000002 89,252.3 83,255.5" fill="#55eedd" stroke="#2a2aff" stroke-width="1"/>
<text transform="translate(66.1,268.7) scale(1,1.15)" text-anchor="middle" fill="#1e1e1e" stroke="#1e1e1e" stroke-width="0.1" font-size="8.0">SYS_in</text>
<text transform="translate(66.1,278.5) scale(1,1.15)" text-anchor="middle" fill="#1e1e1e" stroke="#1e1e1e" stroke-width="0.1" font-size="8.0">Channels: 2</text>
<text transform="translate(66.1,288.3) scale(1,1.15)" text-anchor="middle" fill="#1e1e1e" stroke="#1e1e1e" stroke-width="0.1" font-size="8.0">BlockSize: 32</text>
<text transform="translate(66.1,298.09999999999997) scale(1,1.15)" text-anchor="middle" fill="#1e1e1e" stroke="#1e1e1e" stroke-width="0.1" font-size="8.0">Sample Rate: 48000</text>
<text transform="translate(66.3,307.9) scale(1,1.15)" text-anchor="middle" fill="#1e1e1e" stroke="#1e1e1e" stroke-width="0.1" font-size="8.0" textLength="66.9" lengthAdjust="spacingAndGlyphs">Data Type: fract32</text>
<rect x="119.1" y="229.6" width="45.20000000000002" height="44.599999999999994" fill="#fff" stroke="#222222" stroke-width="1.15"/>
<text transform="translate(141.7,250.8) scale(1,1.15)" text-anchor="middle" fill="#1e1e1e" stroke="#1e1e1e" stroke-width="0.1" font-size="8.0">Type</text>
<text transform="translate(141.7,260.6) scale(1,1.15)" text-anchor="middle" fill="#1e1e1e" stroke="#1e1e1e" stroke-width="0.1" font-size="8.0">Convert</text>
<polygon points="119.3,249.10000000000002 125.3,252.3 119.3,255.5" fill="#55eedd" stroke="#2a2aff" stroke-width="1"/>
<polygon points="157.9,249.10000000000002 163.9,252.3 157.9,255.5" fill="#55eedd" stroke="#2a2aff" stroke-width="1"/>
<text transform="translate(141.5,283.9) scale(1,1.15)" text-anchor="middle" fill="#1e1e1e" stroke="#1e1e1e" stroke-width="0.1" font-size="8.0">SYS_toFloat</text>
<text transform="translate(140.95,293.59999999999997) scale(1,1.15)" text-anchor="middle" fill="#1e1e1e" stroke="#1e1e1e" stroke-width="0.1" font-size="8.0" textLength="64.3" lengthAdjust="spacingAndGlyphs">[TypeConversion]</text>
<text transform="translate(141.95,303.29999999999995) scale(1,1.15)" text-anchor="middle" fill="#1e1e1e" stroke="#1e1e1e" stroke-width="0.1" font-size="8.0" textLength="55.4" lengthAdjust="spacingAndGlyphs">fract32 --&gt; float</text>
<polygon points="201.5,229.7 246.5,207.5 246.5,297.4 201.5,274.8" fill="#fff" stroke="#222222" stroke-width="1.15"/>
<polygon points="201.6,249.10000000000002 207.6,252.3 201.6,255.5" fill="#55eedd" stroke="#2a2aff" stroke-width="1"/>
<polygon points="240.2,226.60000000000002 246.2,229.8 240.2,233.0" fill="#55eedd" stroke="#2a2aff" stroke-width="1"/>
<polygon points="240.2,264.1 246.2,267.3 240.2,270.5" fill="#55eedd" stroke="#2a2aff" stroke-width="1"/>
<line x1="220.3" y1="239.2" x2="220.3" y2="265.1" stroke="#222222" stroke-width="1.15"/>
<line x1="220.3" y1="239.2" x2="232.9" y2="239.2" stroke="#222222" stroke-width="1.15"/>
<line x1="220.3" y1="245.7" x2="232.9" y2="245.7" stroke="#222222" stroke-width="1.15"/>
<line x1="220.3" y1="252.2" x2="232.9" y2="252.2" stroke="#222222" stroke-width="1.15"/>
<line x1="220.3" y1="258.6" x2="232.9" y2="258.6" stroke="#222222" stroke-width="1.15"/>
<line x1="220.3" y1="265.1" x2="232.9" y2="265.1" stroke="#222222" stroke-width="1.15"/>
<line x1="212.4" y1="252.2" x2="220.3" y2="252.2" stroke="#222222" stroke-width="1.15"/>
<text transform="translate(222.35,306.5) scale(1,1.15)" text-anchor="middle" fill="#1e1e1e" stroke="#1e1e1e" stroke-width="0.1" font-size="8.0" textLength="21.4" lengthAdjust="spacingAndGlyphs">Deint1</text>
<text transform="translate(222.65,316.2) scale(1,1.15)" text-anchor="middle" fill="#1e1e1e" stroke="#1e1e1e" stroke-width="0.1" font-size="8.0">[Deinterleave]</text>
<rect x="374" y="34.8" width="52.69999999999999" height="45.3" fill="#fff" stroke="#222222" stroke-width="1.15"/>
<text transform="translate(400.3,61.0) scale(1,1.15)" text-anchor="middle" fill="#1e1e1e" stroke="#1e1e1e" stroke-width="0.1" font-size="8.0">RMS</text>
<polygon points="374.2,54.5 380.2,57.7 374.2,60.900000000000006" fill="#55eedd" stroke="#2a2aff" stroke-width="1"/>
<polygon points="420.5,54.5 426.5,57.7 420.5,60.900000000000006" fill="#55eedd" stroke="#2a2aff" stroke-width="1"/>
<text transform="translate(398.5,88.8) scale(1,1.15)" text-anchor="middle" fill="#1e1e1e" stroke="#1e1e1e" stroke-width="0.1" font-size="8.0" textLength="20.0" lengthAdjust="spacingAndGlyphs">RMS1</text>
<text transform="translate(398.7,98.5) scale(1,1.15)" text-anchor="middle" fill="#1e1e1e" stroke="#1e1e1e" stroke-width="0.1" font-size="8.0" textLength="20.4" lengthAdjust="spacingAndGlyphs">[RMS]</text>
<text transform="translate(399.5,108.19999999999999) scale(1,1.15)" text-anchor="middle" fill="#1e1e1e" stroke="#1e1e1e" stroke-width="0.1" font-size="8.0">smoothingTime: 1000 msec</text>
<rect x="374" y="124.9" width="52.69999999999999" height="44.79999999999998" fill="#fff" stroke="#222222" stroke-width="1.15"/>
<text transform="translate(400.3,150.60000000000002) scale(1,1.15)" text-anchor="middle" fill="#1e1e1e" stroke="#1e1e1e" stroke-width="0.1" font-size="8.0">RMS</text>
<polygon points="374.2,144.10000000000002 380.2,147.3 374.2,150.5" fill="#55eedd" stroke="#2a2aff" stroke-width="1"/>
<polygon points="420.5,144.10000000000002 426.5,147.3 420.5,150.5" fill="#55eedd" stroke="#2a2aff" stroke-width="1"/>
<text transform="translate(398.5,178.4) scale(1,1.15)" text-anchor="middle" fill="#1e1e1e" stroke="#1e1e1e" stroke-width="0.1" font-size="8.0" textLength="20.0" lengthAdjust="spacingAndGlyphs">RMS2</text>
<text transform="translate(398.7,188.1) scale(1,1.15)" text-anchor="middle" fill="#1e1e1e" stroke="#1e1e1e" stroke-width="0.1" font-size="8.0" textLength="20.4" lengthAdjust="spacingAndGlyphs">[RMS]</text>
<text transform="translate(399.5,197.8) scale(1,1.15)" text-anchor="middle" fill="#1e1e1e" stroke="#1e1e1e" stroke-width="0.1" font-size="8.0">smoothingTime: 1000 msec</text>
<rect x="486.6" y="87.6" width="52.60000000000002" height="44.70000000000002" fill="#fff" stroke="#222222" stroke-width="1.15"/>
<polygon points="486.6,99.0 492.6,102.2 486.6,105.4" fill="#55eedd" stroke="#2a2aff" stroke-width="1"/>
<polygon points="486.6,114.2 492.6,117.4 486.6,120.60000000000001" fill="#55eedd" stroke="#2a2aff" stroke-width="1"/>
<polygon points="533,106.8 539,110 533,113.2" fill="#55eedd" stroke="#2a2aff" stroke-width="1"/>
<text transform="translate(494.1,104.6) scale(1,1.02)" text-anchor="start" fill="#2a2aff" stroke="#2a2aff" stroke-width="0.3" font-size="8.0" textLength="9.0" lengthAdjust="spacingAndGlyphs">in1</text>
<text transform="translate(494.1,119.8) scale(1,1.02)" text-anchor="start" fill="#2a2aff" stroke="#2a2aff" stroke-width="0.3" font-size="8.0" textLength="9.0" lengthAdjust="spacingAndGlyphs">in2</text>
<polyline points="502.5,98.2 521.8,107.8 502.5,118.9" fill="none" stroke="#222222" stroke-width="1"/>
<line x1="502.5" y1="119.7" x2="521.8" y2="119.7" stroke="#222222" stroke-width="1.15"/>
<text transform="translate(511.8,141.0) scale(1,1.15)" text-anchor="middle" fill="#1e1e1e" stroke="#1e1e1e" stroke-width="0.1" font-size="8.0">Compare1</text>
<text transform="translate(511.8,150.7) scale(1,1.15)" text-anchor="middle" fill="#1e1e1e" stroke="#1e1e1e" stroke-width="0.1" font-size="8.0">[LogicCompare]</text>
<text transform="translate(511.8,160.4) scale(1,1.15)" text-anchor="middle" fill="#1e1e1e" stroke="#1e1e1e" stroke-width="0.1" font-size="8.0">compareType: EQUAL [0]</text>
<polygon points="644,207.2 689.5,230.1 689.5,274.8 644,297.3" fill="#fff" stroke="#222222" stroke-width="1.15"/>
<polygon points="644.1,226.3 650.1,229.5 644.1,232.7" fill="#55eedd" stroke="#2a2aff" stroke-width="1"/>
<polygon points="644.1,249.0 650.1,252.2 644.1,255.39999999999998" fill="#55eedd" stroke="#2a2aff" stroke-width="1"/>
<polygon points="644.1,271.6 650.1,274.8 644.1,278.0" fill="#55eedd" stroke="#2a2aff" stroke-width="1"/>
<polygon points="683.2,249.0 689.2,252.2 683.2,255.39999999999998" fill="#55eedd" stroke="#2a2aff" stroke-width="1"/>
<text transform="translate(651.6,231.8) scale(1,1.15)" text-anchor="start" fill="#2a2aff" stroke="#2a2aff" stroke-width="0.3" font-size="8.0" textLength="12.1" lengthAdjust="spacingAndGlyphs">Ctrl</text>
<line x1="654.4" y1="242" x2="661.1" y2="242" stroke="#222222" stroke-width="1.15"/>
<circle cx="661.1" cy="242" r="1.85" fill="#111"/>
<line x1="654.4" y1="251.8" x2="661.1" y2="251.8" stroke="#222222" stroke-width="1.15"/>
<circle cx="661.1" cy="251.8" r="1.85" fill="#111"/>
<line x1="654.4" y1="262.7" x2="661.1" y2="262.7" stroke="#222222" stroke-width="1.15"/>
<circle cx="661.1" cy="262.7" r="1.85" fill="#111"/>
<line x1="666.5" y1="247.3" x2="674.1" y2="251.8" stroke="#222222" stroke-width="1.15"/>
<polygon points="664.5,245.8 666.3,249.2 668.7,246.5" fill="#111" stroke="#111" stroke-width="0.4"/>
<circle cx="674.1" cy="251.8" r="1.85" fill="#111"/>
<line x1="674.1" y1="251.8" x2="679.9" y2="251.8" stroke="#222222" stroke-width="1.15"/>
<text transform="translate(666,306.3) scale(1,1.15)" text-anchor="middle" fill="#1e1e1e" stroke="#1e1e1e" stroke-width="0.1" font-size="8.0">Multiplexor1</text>
<text transform="translate(666,315.95) scale(1,1.15)" text-anchor="middle" fill="#1e1e1e" stroke="#1e1e1e" stroke-width="0.1" font-size="8.0">[MultiplexorV2]</text>
<text transform="translate(666,325.6) scale(1,1.15)" text-anchor="middle" fill="#1e1e1e" stroke="#1e1e1e" stroke-width="0.1" font-size="8.0">index: 0</text>
<text transform="translate(666,335.25) scale(1,1.15)" text-anchor="middle" fill="#1e1e1e" stroke="#1e1e1e" stroke-width="0.1" font-size="8.0">smoothingTime: 10 msec</text>
<text transform="translate(666,344.90000000000003) scale(1,1.15)" text-anchor="middle" fill="#1e1e1e" stroke="#1e1e1e" stroke-width="0.1" font-size="8.0">fadeTime: 10 msec</text>
<polygon points="771.4,207.5 816.6,229.9 816.6,274.8 771.4,297.4" fill="#fff" stroke="#222222" stroke-width="1.15"/>
<polygon points="771.6,226.60000000000002 777.6,229.8 771.6,233.0" fill="#55eedd" stroke="#2a2aff" stroke-width="1"/>
<polygon points="771.6,264.1 777.6,267.3 771.6,270.5" fill="#55eedd" stroke="#2a2aff" stroke-width="1"/>
<polygon points="810.4,249.10000000000002 816.4,252.3 810.4,255.5" fill="#55eedd" stroke="#2a2aff" stroke-width="1"/>
<line x1="795" y1="238.6" x2="795" y2="265.4" stroke="#222222" stroke-width="1.15"/>
<line x1="782.9" y1="238.6" x2="795" y2="238.6" stroke="#222222" stroke-width="1.15"/>
<line x1="782.9" y1="245.2" x2="795" y2="245.2" stroke="#222222" stroke-width="1.15"/>
<line x1="782.9" y1="252" x2="795" y2="252" stroke="#222222" stroke-width="1.15"/>
<line x1="782.9" y1="258.6" x2="795" y2="258.6" stroke="#222222" stroke-width="1.15"/>
<line x1="782.9" y1="265.4" x2="795" y2="265.4" stroke="#222222" stroke-width="1.15"/>
<line x1="795" y1="252" x2="802.7" y2="252" stroke="#222222" stroke-width="1.15"/>
<text transform="translate(793.3,306.5) scale(1,1.15)" text-anchor="middle" fill="#1e1e1e" stroke="#1e1e1e" stroke-width="0.1" font-size="8.0">Interleave1</text>
<text transform="translate(793.3,316.2) scale(1,1.15)" text-anchor="middle" fill="#1e1e1e" stroke="#1e1e1e" stroke-width="0.1" font-size="8.0">[Interleave]</text>
<rect x="876.5" y="229.6" width="45.299999999999955" height="44.79999999999998" fill="#fff" stroke="#222222" stroke-width="1.15"/>
<text transform="translate(899,250.8) scale(1,1.15)" text-anchor="middle" fill="#1e1e1e" stroke="#1e1e1e" stroke-width="0.1" font-size="8.0">Type</text>
<text transform="translate(899,260.6) scale(1,1.15)" text-anchor="middle" fill="#1e1e1e" stroke="#1e1e1e" stroke-width="0.1" font-size="8.0">Convert</text>
<polygon points="876.7,249.10000000000002 882.7,252.3 876.7,255.5" fill="#55eedd" stroke="#2a2aff" stroke-width="1"/>
<polygon points="915.5,249.10000000000002 921.5,252.3 915.5,255.5" fill="#55eedd" stroke="#2a2aff" stroke-width="1"/>
<text transform="translate(899,283.9) scale(1,1.15)" text-anchor="middle" fill="#1e1e1e" stroke="#1e1e1e" stroke-width="0.1" font-size="8.0">SYS_toFract</text>
<text transform="translate(898.2,293.59999999999997) scale(1,1.15)" text-anchor="middle" fill="#1e1e1e" stroke="#1e1e1e" stroke-width="0.1" font-size="8.0" textLength="63.8" lengthAdjust="spacingAndGlyphs">[TypeConversion]</text>
<text transform="translate(899.0,303.29999999999995) scale(1,1.15)" text-anchor="middle" fill="#1e1e1e" stroke="#1e1e1e" stroke-width="0.1" font-size="8.0" textLength="56.4" lengthAdjust="spacingAndGlyphs">float --&gt; fract32</text>
<polygon points="951.1,252.3 958.4,244.8 996.4,244.8 996.4,259.7 958.4,259.7" fill="#fff" stroke="#222222" stroke-width="1.2"/>
<text transform="translate(973.65,255.8) scale(1,1.15)" text-anchor="middle" fill="#1e1e1e" stroke="#1e1e1e" stroke-width="0.1" font-size="8.0">HW</text>
<polygon points="951.2,249.10000000000002 957.2,252.3 951.2,255.5" fill="#55eedd" stroke="#2a2aff" stroke-width="1"/>
<text transform="translate(973.3,268.7) scale(1,1.15)" text-anchor="middle" fill="#1e1e1e" stroke="#1e1e1e" stroke-width="0.1" font-size="8.0">SYS_out</text>
<text transform="translate(973.3,278.5) scale(1,1.15)" text-anchor="middle" fill="#1e1e1e" stroke="#1e1e1e" stroke-width="0.1" font-size="8.0">Channels: 2</text>
<text transform="translate(973.3,288.3) scale(1,1.15)" text-anchor="middle" fill="#1e1e1e" stroke="#1e1e1e" stroke-width="0.1" font-size="8.0">BlockSize: 32</text>
<text transform="translate(973.3,298.09999999999997) scale(1,1.15)" text-anchor="middle" fill="#1e1e1e" stroke="#1e1e1e" stroke-width="0.1" font-size="8.0">Sample Rate: 48000</text>
<text transform="translate(973.8,307.9) scale(1,1.15)" text-anchor="middle" fill="#1e1e1e" stroke="#1e1e1e" stroke-width="0.1" font-size="8.0" textLength="66.9" lengthAdjust="spacingAndGlyphs">Data Type: fract32</text>
</g></svg></body></html>
